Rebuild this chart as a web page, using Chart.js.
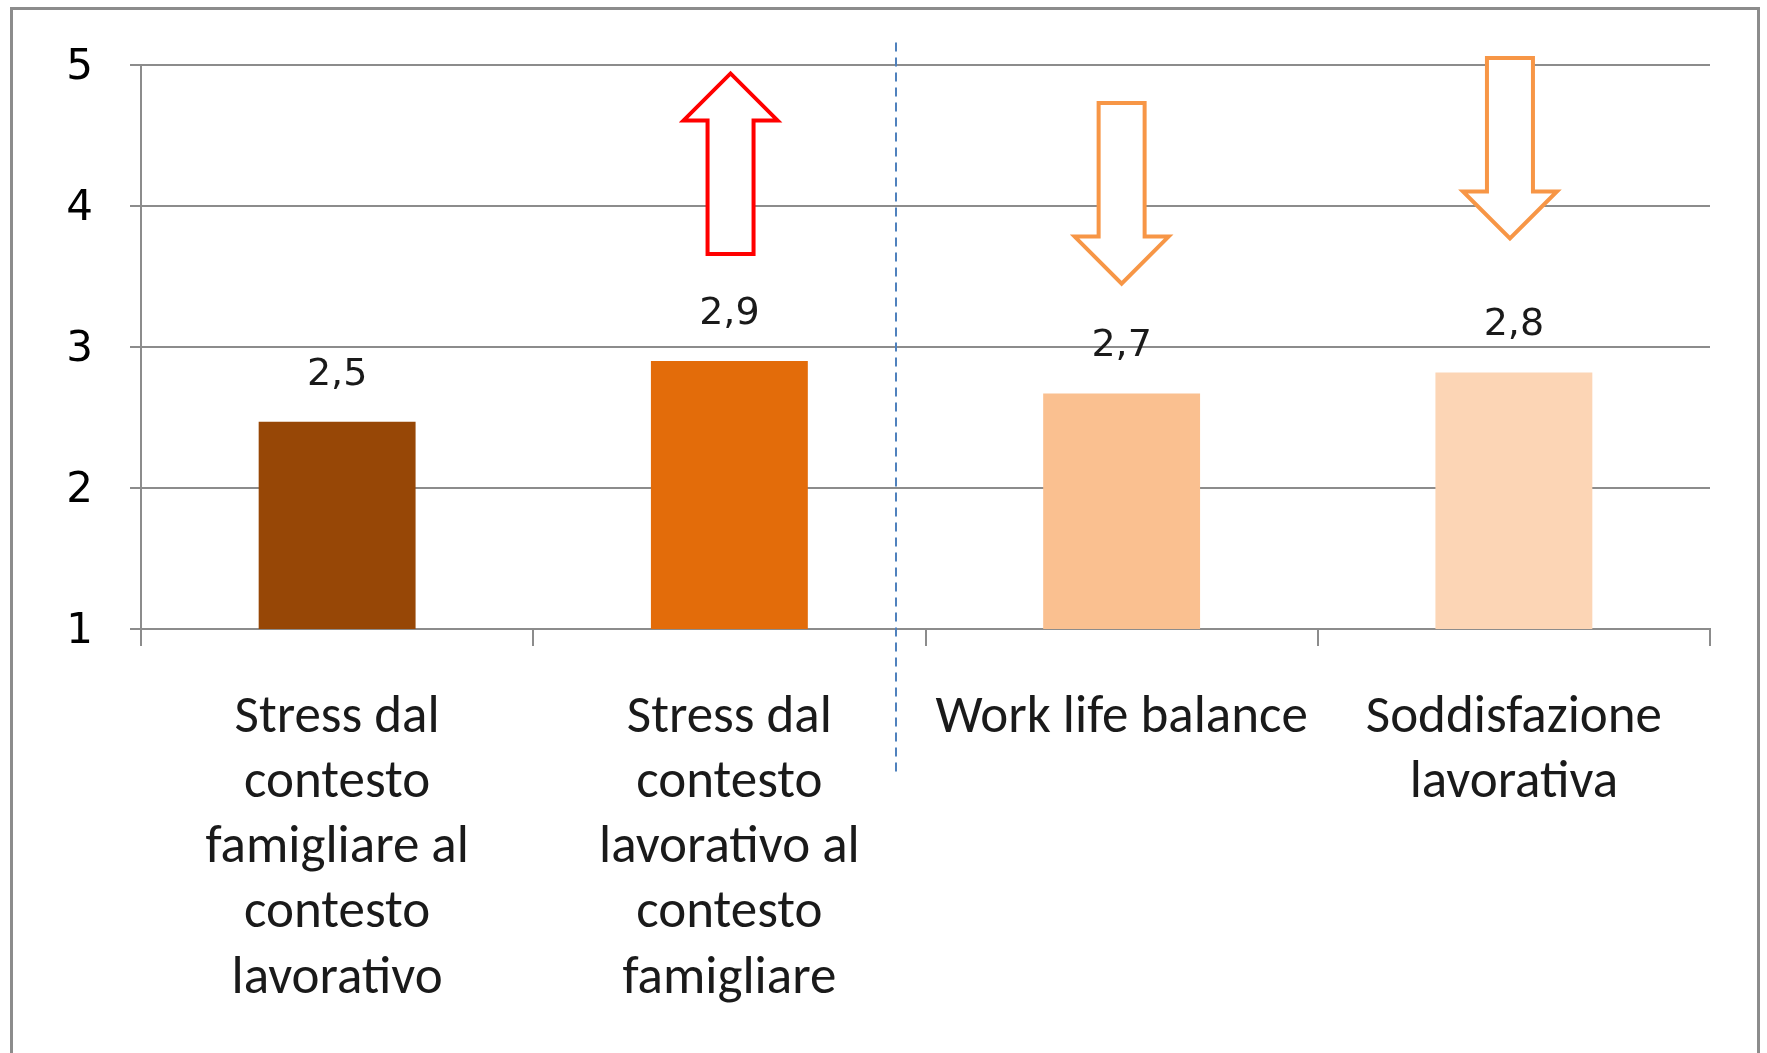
<!DOCTYPE html>
<html lang="it">
<head>
<meta charset="UTF-8">
<title>Stress e soddisfazione lavorativa</title>
<script src="https://cdn.jsdelivr.net/npm/chart.js@4.4.0/dist/chart.umd.min.js"></script>
<style>
  html, body { margin: 0; padding: 0; background: #fff; }
</style>
</head>
<body>
<canvas id="myChart" width="1767" height="1053"></canvas>
<script>
const categories = [
  ['Stress dal', 'contesto', 'famigliare al', 'contesto', 'lavorativo'],
  ['Stress dal', 'contesto', 'lavorativo al', 'contesto', 'famigliare'],
  'Work life balance',
  ['Soddisfazione', 'lavorativa']
];
const values = [2.47, 2.9, 2.67, 2.82];
const valueLabels = ['2,5', '2,9', '2,7', '2,8'];
const barColors = ['#974706', '#E36C0A', '#FAC090', '#FCD5B5'];
const yTicks = [1, 2, 3, 4, 5];

// hollow arrows over the bars: category position, tail value, tip value, colour
const arrowCats = [1.003, 2, 2.99];
const arrowTails = [3.66, 4.73, 5.05];
const arrowTips = [4.94, 3.45, 3.77];
const arrowColors = ['#FF0000', '#F79646', '#F79646'];

// dashed separator between the two groups (category position, value range)
const dividerAt = 1.425;
const dividerFrom = 5.16;
const dividerTo = -0.04;

function drawArrow(ctx, cx, yTail, yTip, color) {
  const dir = yTip > yTail ? 1 : -1;
  const headLen = 47, headHalf = 47, shaftHalf = 23;
  const yBase = yTip - dir * headLen;
  ctx.beginPath();
  ctx.moveTo(cx - shaftHalf, yTail);
  ctx.lineTo(cx - shaftHalf, yBase);
  ctx.lineTo(cx - headHalf, yBase);
  ctx.lineTo(cx, yTip);
  ctx.lineTo(cx + headHalf, yBase);
  ctx.lineTo(cx + shaftHalf, yBase);
  ctx.lineTo(cx + shaftHalf, yTail);
  ctx.closePath();
  ctx.fillStyle = '#fff';
  ctx.fill();
  ctx.strokeStyle = color;
  ctx.lineWidth = 4;
  ctx.lineJoin = 'miter';
  ctx.stroke();
}

const extras = {
  id: 'extras',
  beforeDraw(chart) {
    const ctx = chart.ctx;
    ctx.save();
    ctx.strokeStyle = '#8c8c8c';
    ctx.lineWidth = 3;
    ctx.beginPath();
    ctx.moveTo(11.5, chart.height + 5);
    ctx.lineTo(11.5, 8.5);
    ctx.lineTo(chart.width - 8.5, 8.5);
    ctx.lineTo(chart.width - 8.5, chart.height + 5);
    ctx.stroke();
    ctx.restore();
  },
  afterDatasetsDraw(chart) {
    const ctx = chart.ctx;
    const xs = chart.scales.x, ys = chart.scales.y;
    ctx.save();

    // divider
    const dx = Math.round(xs.getPixelForValue(dividerAt));
    ctx.strokeStyle = '#4F81BD';
    ctx.lineWidth = 2;
    ctx.setLineDash([9, 6]);
    ctx.beginPath();
    ctx.moveTo(dx, ys.getPixelForValue(dividerFrom));
    ctx.lineTo(dx, ys.getPixelForValue(dividerTo));
    ctx.stroke();
    ctx.setLineDash([]);

    // value labels
    const meta = chart.getDatasetMeta(0);
    ctx.fillStyle = '#1a1a1a';
    ctx.font = '38px "DejaVu Sans"';
    ctx.textAlign = 'center';
    ctx.textBaseline = 'middle';
    meta.data.forEach((bar, i) => {
      ctx.fillText(valueLabels[i], bar.x, bar.y - 47);
    });

    // arrows
    arrowCats.forEach((c, i) => {
      drawArrow(ctx, xs.getPixelForValue(c), ys.getPixelForValue(arrowTails[i]),
        ys.getPixelForValue(arrowTips[i]), arrowColors[i]);
    });
    ctx.restore();
  }
};

const myChart = new Chart(document.getElementById('myChart').getContext('2d'), {
  type: 'bar',
  data: {
    labels: categories,
    datasets: [{
      data: values,
      backgroundColor: barColors,
      borderWidth: 0,
      barPercentage: 0.4,
      categoryPercentage: 1
    }]
  },
  options: {
    responsive: false,
    animation: false,
    devicePixelRatio: 1,
    layout: { padding: { top: 65, right: 57, left: 0, bottom: 0 } },
    plugins: {
      legend: { display: false },
      tooltip: { enabled: false }
    },
    scales: {
      x: {
        grid: { drawOnChartArea: false, drawTicks: true, tickLength: 17, color: '#8c8c8c', lineWidth: 2, offset: true },
        border: { color: '#8c8c8c', width: 2 },
        ticks: {
          autoSkip: false, maxRotation: 0, minRotation: 0, padding: 40,
          color: '#1a1a1a',
          font: { family: 'Carlito, Lato, sans-serif', size: 53, lineHeight: 1.23 }
        },
        afterFit(s) { s.height = 424; }
      },
      y: {
        min: 1,
        max: 5,
        ticks: {
          stepSize: 1, padding: 37, labelOffset: 3, color: '#000',
          font: { family: 'DejaVu Sans', size: 42 }
        },
        afterBuildTicks(s) { s.ticks = yTicks.map(v => ({ value: v })); },
        grid: { color: '#8c8c8c', lineWidth: 2, tickLength: 11 },
        border: { color: '#8c8c8c', width: 2 },
        afterFit(s) { s.width = 141; }
      }
    }
  },
  plugins: [extras]
});
</script>
</body>
</html>
